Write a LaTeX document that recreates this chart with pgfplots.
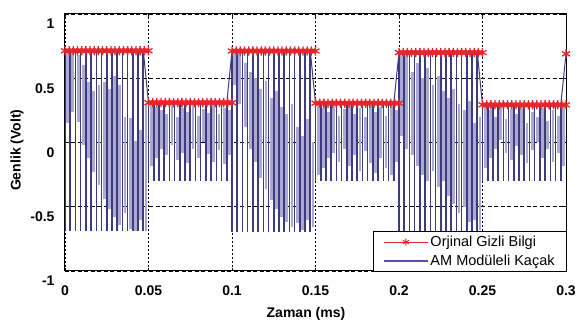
\documentclass[border=0pt]{standalone}
\usepackage{fontspec}
\setmainfont{Liberation Sans}
\usepackage{pgfplots}
\usepackage{pgfplotstable}
\pgfplotsset{compat=1.18}
\definecolor{sred}{HTML}{E3262B}
\definecolor{snavy}{HTML}{3B3B7E}
\definecolor{slav}{HTML}{AAAAD4}
\definecolor{sleg}{HTML}{5050B8}

% dark carrier spikes: x, lower end, upper end
\pgfplotstableread{
x lo hi
0.000000 -0.69 0.714
0.003125 -0.69 0.714
0.006250 -0.69 0.714
0.009375 -0.69 0.714
0.012500 -0.69 0.714
0.015625 -0.69 0.714
0.018750 -0.69 0.714
0.021875 -0.69 0.714
0.025000 -0.69 0.714
0.028125 -0.69 0.714
0.031250 -0.69 0.714
0.034375 -0.69 0.714
0.037500 -0.69 0.714
0.040625 -0.69 0.714
0.043750 -0.69 0.714
0.046875 -0.69 0.714
0.050000 -0.30 0.310
0.053125 -0.30 0.310
0.056250 -0.30 0.310
0.059375 -0.30 0.310
0.062500 -0.30 0.310
0.065625 -0.30 0.310
0.068750 -0.30 0.310
0.071875 -0.30 0.310
0.075000 -0.30 0.310
0.078125 -0.30 0.310
0.081250 -0.30 0.310
0.084375 -0.30 0.310
0.087500 -0.30 0.310
0.090625 -0.30 0.310
0.093750 -0.30 0.310
0.096875 -0.30 0.310
0.100000 -0.70 0.712
0.103125 -0.70 0.712
0.106250 -0.70 0.712
0.109375 -0.70 0.712
0.112500 -0.70 0.712
0.115625 -0.70 0.712
0.118750 -0.70 0.712
0.121875 -0.70 0.712
0.125000 -0.70 0.712
0.128125 -0.70 0.712
0.131250 -0.70 0.712
0.134375 -0.70 0.712
0.137500 -0.70 0.712
0.140625 -0.70 0.712
0.143750 -0.70 0.712
0.146875 -0.70 0.712
0.150000 -0.30 0.306
0.153125 -0.30 0.306
0.156250 -0.30 0.306
0.159375 -0.30 0.306
0.162500 -0.30 0.306
0.165625 -0.30 0.306
0.168750 -0.30 0.306
0.171875 -0.30 0.306
0.175000 -0.30 0.306
0.178125 -0.30 0.306
0.181250 -0.30 0.306
0.184375 -0.30 0.306
0.187500 -0.30 0.306
0.190625 -0.30 0.306
0.193750 -0.30 0.306
0.196875 -0.30 0.306
0.200000 -0.70 0.700
0.203125 -0.70 0.700
0.206250 -0.70 0.700
0.209375 -0.70 0.700
0.212500 -0.70 0.700
0.215625 -0.70 0.700
0.218750 -0.70 0.700
0.221875 -0.70 0.700
0.225000 -0.70 0.700
0.228125 -0.70 0.700
0.231250 -0.70 0.700
0.234375 -0.70 0.700
0.237500 -0.70 0.700
0.240625 -0.70 0.700
0.243750 -0.70 0.700
0.246875 -0.70 0.700
0.250000 -0.30 0.293
0.253125 -0.30 0.293
0.256250 -0.30 0.293
0.259375 -0.30 0.293
0.262500 -0.30 0.293
0.265625 -0.30 0.293
0.268750 -0.30 0.293
0.271875 -0.30 0.293
0.275000 -0.30 0.293
0.278125 -0.30 0.293
0.281250 -0.30 0.293
0.284375 -0.30 0.293
0.287500 -0.30 0.293
0.290625 -0.30 0.293
0.293750 -0.30 0.293
0.296875 -0.30 0.293
0.300000 0.690 0.690
}\darkspikes

% lighter partial strokes of the carrier
\pgfplotstableread{
x lo hi
0.001600 0.15 0.71
0.004725 0.24 0.71
0.007850 0.16 0.68
0.010975 -0.02 0.60
0.014100 -0.12 0.47
0.017225 -0.23 0.40
0.020350 -0.33 0.45
0.023475 -0.44 0.47
0.026600 -0.52 0.42
0.029725 -0.58 0.52
0.032850 -0.64 0.45
0.035975 -0.55 0.20
0.039100 -0.67 0.19
0.042225 -0.69 0.01
0.045350 -0.60 0.10
0.048475 -0.69 0.30
0.051600 -0.18 0.30
0.054725 -0.12 0.28
0.057850 -0.05 0.25
0.060975 -0.10 0.22
0.064100 -0.02 0.29
0.067225 -0.14 0.20
0.070350 -0.08 0.27
0.073475 -0.16 0.24
0.076600 -0.05 0.30
0.079725 -0.12 0.21
0.082850 0.00 0.26
0.085975 -0.09 0.23
0.089100 -0.15 0.30
0.092225 -0.06 0.22
0.095350 -0.17 0.27
0.098475 -0.10 0.25
0.101600 0.45 0.71
0.104725 0.30 0.70
0.107850 0.12 0.62
0.110975 -0.05 0.55
0.114100 -0.15 0.50
0.117225 -0.28 0.42
0.120350 -0.36 0.48
0.123475 -0.45 0.35
0.126600 -0.52 0.40
0.129725 -0.58 0.28
0.132850 -0.62 0.22
0.135975 -0.66 0.30
0.139100 -0.63 0.12
0.142225 -0.68 0.05
0.145350 -0.60 0.18
0.148475 -0.66 0.00
0.151600 -0.25 0.30
0.154725 -0.20 0.27
0.157850 -0.12 0.24
0.160975 -0.08 0.29
0.164100 -0.15 0.21
0.167225 -0.05 0.26
0.170350 -0.18 0.30
0.173475 -0.10 0.22
0.176600 -0.22 0.27
0.179725 -0.07 0.20
0.182850 -0.16 0.29
0.185975 -0.24 0.24
0.189100 -0.12 0.28
0.192225 -0.20 0.21
0.195350 -0.25 0.30
0.198475 -0.15 0.25
0.201600 0.05 0.70
0.204725 -0.05 0.68
0.207850 -0.10 0.55
0.210975 -0.18 0.62
0.214100 -0.25 0.50
0.217225 -0.30 0.58
0.220350 -0.22 0.45
0.223475 -0.35 0.52
0.226600 -0.30 0.40
0.229725 -0.42 0.35
0.232850 -0.48 0.42
0.235975 -0.55 0.30
0.239100 -0.50 0.25
0.242225 -0.62 0.32
0.245350 -0.60 0.15
0.248475 -0.68 0.20
0.251600 -0.20 0.29
0.254725 -0.12 0.25
0.257850 -0.05 0.20
0.260975 0.02 0.28
0.264100 -0.08 0.18
0.267225 -0.14 0.26
0.270350 -0.03 0.22
0.273475 -0.10 0.29
0.276600 -0.16 0.15
0.279725 -0.06 0.24
0.282850 0.00 0.20
0.285975 -0.12 0.27
0.289100 -0.05 0.17
0.292225 -0.15 0.25
0.295350 -0.08 0.21
0.298475 -0.18 0.28
}\lightspikes

\begin{document}
\begin{tikzpicture}
\useasboundingbox (-65pt,-55pt) rectangle (514pt,271pt);
\begin{axis}[
  at={(0pt,0pt)}, anchor=south west,
  scale only axis, width=501pt, height=257pt,
  xmin=0, xmax=0.3, ymin=-1, ymax=1,
  xtick={0,0.05,0.1,0.15,0.2,0.25,0.3},
  xticklabels={0,0.05,0.1,0.15,0.2,0.25,0.3},
  ytick={-1,-0.5,0,0.5,1},
  yticklabels={-1,-0.5,0,0.5,1},
  ticklabel style={font=\fontsize{14}{14}\selectfont\bfseries},
  xticklabel style={yshift=-11pt},
  yticklabel style={xshift=-7pt, yshift=-10pt},
  tick style={black, line width=0.6pt}, major tick length=3pt, tick align=inside,
  grid=major,
  x grid style={black, line width=0.9pt, dash pattern=on 2pt off 2pt},
  y grid style={black, line width=0.7pt, dash pattern=on 4pt off 2.5pt},
  axis line style={black, line width=1pt},
  xlabel={Zaman (ms)}, ylabel={Genlik (Volt)},
  label style={font=\fontsize{14}{14}\selectfont\bfseries},
  xlabel style={at={(axis description cs:0.481,-0.165)}, anchor=center},
  ylabel style={at={(axis description cs:-0.096,0.47)}, anchor=center},
  legend style={at={(rel axis cs:1.002,-0.004)}, anchor=south east,
    draw=black, line width=0.8pt, fill=white,
    font=\fontsize{14.5}{16}\selectfont,
    inner xsep=10pt, inner ysep=2.5pt, row sep=3pt},
  legend cell align=left,
  legend image code/.code={\draw[mark repeat=2,mark phase=2,#1] plot coordinates {(0pt,0pt) (22pt,0pt) (44pt,0pt)};},
]
\addlegendimage{draw=sred, line width=0.7pt, mark=asterisk, mark size=3.6pt, mark options={solid, draw=sred, line width=0.9pt}}
\addlegendentry{Orjinal Gizli Bilgi}
\addlegendimage{legend image code/.code={\draw[sleg, line width=1.3pt] (0pt,0pt) -- (44pt,0pt);}}
\addlegendentry{AM Modüleli Kaçak}

% light strokes
\addplot[draw=none, mark=none, forget plot,
  error bars/.cd, y dir=plus, y explicit, error mark=none,
  error bar style={draw=slav, line width=2.8pt}]
  table[x=x, y=lo, y error plus expr=\thisrow{hi}-\thisrow{lo}] {\lightspikes};
% dark strokes
\addplot[draw=none, mark=none, forget plot,
  error bars/.cd, y dir=plus, y explicit, error mark=none,
  error bar style={draw=snavy, line width=1.6pt}]
  table[x=x, y=lo, y error plus expr=\thisrow{hi}-\thisrow{lo}] {\darkspikes};
% carrier upper path
\addplot[snavy, line width=1pt, mark=none, forget plot] table[x=x, y=hi] {\darkspikes};

% original hidden message
\pgfplotsset{redstyle/.style={sred, line width=1.3pt, mark=asterisk, mark size=4.6pt, mark options={line width=1.3pt}, forget plot}}
\addplot[redstyle] coordinates {
(0,0.714) (0.0025,0.714) (0.005,0.714) (0.0075,0.714) (0.01,0.714) (0.0125,0.714) (0.015,0.714) (0.0175,0.714) (0.02,0.714) (0.0225,0.714) (0.025,0.714) (0.0275,0.714) (0.03,0.714) (0.0325,0.714) (0.035,0.714) (0.0375,0.714) (0.04,0.714) (0.0425,0.714) (0.045,0.714) (0.0475,0.714) (0.05,0.714)};
\addplot[redstyle] coordinates {
(0.05,0.31) (0.0525,0.31) (0.055,0.31) (0.0575,0.31) (0.06,0.31) (0.0625,0.31) (0.065,0.31) (0.0675,0.31) (0.07,0.31) (0.0725,0.31) (0.075,0.31) (0.0775,0.31) (0.08,0.31) (0.0825,0.31) (0.085,0.31) (0.0875,0.31) (0.09,0.31) (0.0925,0.31) (0.095,0.31) (0.0975,0.31) (0.1,0.31)};
\addplot[redstyle] coordinates {
(0.1,0.712) (0.1025,0.712) (0.105,0.712) (0.1075,0.712) (0.11,0.712) (0.1125,0.712) (0.115,0.712) (0.1175,0.712) (0.12,0.712) (0.1225,0.712) (0.125,0.712) (0.1275,0.712) (0.13,0.712) (0.1325,0.712) (0.135,0.712) (0.1375,0.712) (0.14,0.712) (0.1425,0.712) (0.145,0.712) (0.1475,0.712) (0.15,0.712)};
\addplot[redstyle] coordinates {
(0.15,0.306) (0.1525,0.306) (0.155,0.306) (0.1575,0.306) (0.16,0.306) (0.1625,0.306) (0.165,0.306) (0.1675,0.306) (0.17,0.306) (0.1725,0.306) (0.175,0.306) (0.1775,0.306) (0.18,0.306) (0.1825,0.306) (0.185,0.306) (0.1875,0.306) (0.19,0.306) (0.1925,0.306) (0.195,0.306) (0.1975,0.306) (0.2,0.306)};
\addplot[redstyle] coordinates {
(0.2,0.70) (0.2025,0.70) (0.205,0.70) (0.2075,0.70) (0.21,0.70) (0.2125,0.70) (0.215,0.70) (0.2175,0.70) (0.22,0.70) (0.2225,0.70) (0.225,0.70) (0.2275,0.70) (0.23,0.70) (0.2325,0.70) (0.235,0.70) (0.2375,0.70) (0.24,0.70) (0.2425,0.70) (0.245,0.70) (0.2475,0.70) (0.25,0.70)};
\addplot[redstyle] coordinates {
(0.25,0.293) (0.2525,0.293) (0.255,0.293) (0.2575,0.293) (0.26,0.293) (0.2625,0.293) (0.265,0.293) (0.2675,0.293) (0.27,0.293) (0.2725,0.293) (0.275,0.293) (0.2775,0.293) (0.28,0.293) (0.2825,0.293) (0.285,0.293) (0.2875,0.293) (0.29,0.293) (0.2925,0.293) (0.295,0.293) (0.2975,0.293) (0.3,0.293)};
\addplot[redstyle] coordinates {(0.3,0.69)};
\end{axis}
\end{tikzpicture}
\end{document}
